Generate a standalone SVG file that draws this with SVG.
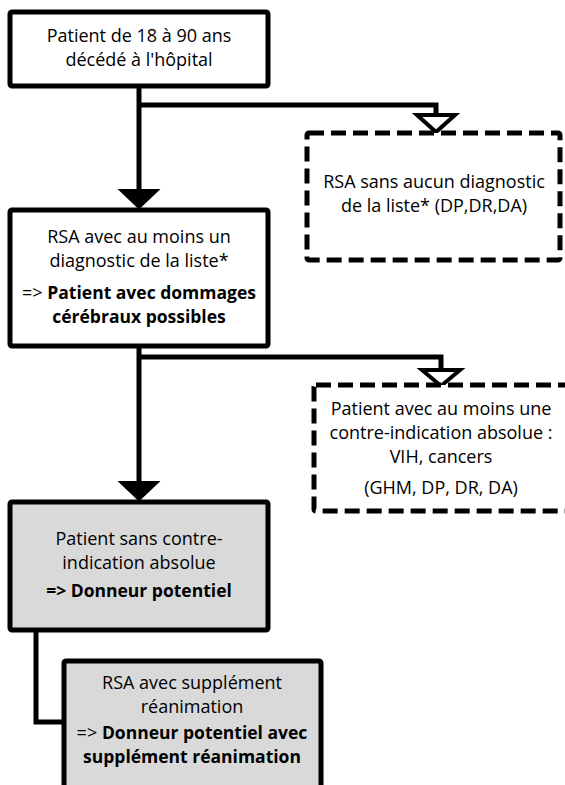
<svg xmlns="http://www.w3.org/2000/svg" width="565" height="785" viewBox="0 0 565 785">
<defs>
<style>
.box{fill:#ffffff;stroke:#000;stroke-width:5;stroke-linejoin:round}
.gray{fill:#d9d9d9;stroke:#000;stroke-width:5;stroke-linejoin:round}
.dash{fill:#ffffff;stroke:#000;stroke-width:5;stroke-dasharray:15 7;stroke-linejoin:round}
.line{fill:none;stroke:#000;stroke-width:5;stroke-linejoin:miter}
.hollow{fill:#ffffff;stroke:#000;stroke-width:4;stroke-linejoin:miter}
.solid{fill:#000;stroke:#000;stroke-width:2;stroke-linejoin:miter}
text{font-family:"Open Sans","Liberation Sans",sans-serif;font-size:18px;fill:#000;text-anchor:middle}
.b{font-weight:bold;font-size:17.5px}
</style>
</defs>
<rect width="565" height="785" fill="#ffffff"/>
<g id="connectors">
<path class="line" d="M139,87 V190"/>
<path class="line" d="M139,105 H436 V115"/>
<polygon class="hollow" points="417,115 455,115 436,132"/>
<polygon class="solid" points="120,190 158,190 139,208"/>
<path class="line" d="M139,347 V482"/>
<path class="line" d="M139,357 H441 V370"/>
<polygon class="hollow" points="422,370 460,370 441,386"/>
<polygon class="solid" points="120,482 158,482 139,500"/>
<path class="line" d="M36,631 V722 H64"/>
</g>
<g id="n1">
<rect class="box" x="10" y="12" width="258" height="74" rx="2"/>
<text x="139" y="42">Patient de 18 à 90 ans</text>
<text x="139" y="66">décédé à l'hôpital</text>
</g>
<g id="n2">
<rect class="dash" x="307" y="133" width="253" height="127" rx="2"/>
<text x="434" y="188">RSA sans aucun diagnostic</text>
<text x="434" y="212">de la liste* (DP,DR,DA)</text>
</g>
<g id="n3">
<rect class="box" x="10" y="210" width="258" height="136" rx="2"/>
<text x="139" y="243">RSA avec au moins un</text>
<text x="139" y="267">diagnostic de la liste*</text>
<text x="139" y="299">=&gt; <tspan class="b">Patient avec dommages</tspan></text>
<text x="139" y="323" class="b">cérébraux possibles</text>
</g>
<g id="n4">
<rect class="dash" x="314" y="385" width="270" height="126" rx="2"/>
<text x="441" y="415">Patient avec au moins une</text>
<text x="441" y="439">contre-indication absolue :</text>
<text x="441" y="463">VIH, cancers</text>
<text x="441" y="494">(GHM, DP, DR, DA)</text>
</g>
<g id="n5">
<rect class="gray" x="10" y="502" width="258" height="128" rx="2"/>
<text x="139" y="545">Patient sans contre-</text>
<text x="139" y="569">indication absolue</text>
<text x="139" y="597" class="b">=&gt; Donneur potentiel</text>
</g>
<g id="n6">
<rect class="gray" x="64" y="661" width="257" height="150" rx="2"/>
<text x="192" y="689">RSA avec supplément</text>
<text x="192" y="713">réanimation</text>
<text x="192" y="739">=&gt; <tspan class="b">Donneur potentiel avec</tspan></text>
<text x="192" y="763" class="b">supplément réanimation</text>
</g>
</svg>
